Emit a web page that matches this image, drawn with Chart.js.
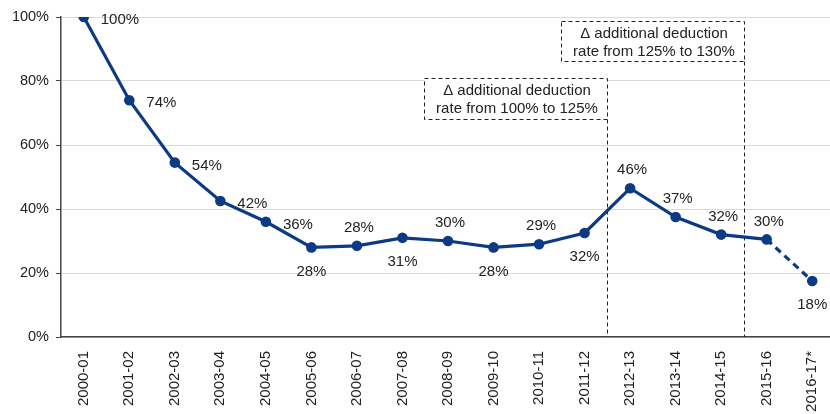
<!DOCTYPE html>
<html>
<head>
<meta charset="utf-8">
<script src="https://cdn.jsdelivr.net/npm/chart.js@4.4.1/dist/chart.umd.min.js"></script>
<style>
  html, body { margin: 0; padding: 0; background: #fff; }
  #wrap { width: 830px; height: 414px; }
</style>
</head>
<body>
<div id="wrap"><canvas id="chart" width="830" height="414"></canvas></div>
<script>
// Data
const years = ['2000-01', '2001-02', '2002-03', '2003-04', '2004-05', '2005-06', '2006-07', '2007-08',
    '2008-09', '2009-10', '2010-11', '2011-12', '2012-13', '2013-14', '2014-15', '2015-16', '2016-17*'];
const shares = [100, 74, 54.5, 42.5, 36, 28, 28.5, 31, 30, 28, 29, 32.5, 46.5, 37.5, 32, 30.5, 17.5];
const shareLabels = ['100%', '74%', '54%', '42%', '36%', '28%', '28%', '31%', '30%', '28%', '29%', '32%',
    '46%', '37%', '32%', '30%', '18%'];
// where each value label sits relative to its point
const labelSide = ['right', 'right', 'right', 'right', 'right', 'below', 'above', 'below', 'above', 'below',
    'above', 'below', 'above', 'above', 'above', 'above', 'below'];
const yTicks = [0, 20, 40, 60, 80, 100];

// Policy changes: line drawn between two years, with a note
const reforms = [
    { after: 11, lines: ['\u0394 additional deduction', 'rate from 100% to 125%'], top: 81, bottom: 68 },
    { after: 14, lines: ['\u0394 additional deduction', 'rate from 125% to 130%'], top: 98.8, bottom: 86.3 }
];

const navy = '#0c3a84';
const textColor = '#222';
const fontFamily = '"Liberation Sans", Arial, sans-serif';

// the plot runs a little past the right edge of the picture
const stretchRight = {
    id: 'stretchRight',
    afterLayout(chart) {
        const x = chart.scales.x;
        x.right = 835;
        x.width = x.right - x.left;
        chart.chartArea.right = 835;
        chart.chartArea.width = chart.chartArea.right - chart.chartArea.left;
        x.configure();
    }
};

// draws the value labels next to each point
const valueLabels = {
    id: 'valueLabels',
    afterDatasetsDraw(chart) {
        const ctx = chart.ctx;
        const meta = chart.getDatasetMeta(0);
        ctx.save();
        ctx.font = '15px ' + fontFamily;
        ctx.fillStyle = textColor;
        ctx.textBaseline = 'middle';
        meta.data.forEach((pt, i) => {
            const side = labelSide[i];
            if (side === 'right') {
                ctx.textAlign = 'left';
                ctx.fillText(shareLabels[i], pt.x + 17, pt.y + 3);
            } else if (side === 'above') {
                ctx.textAlign = 'center';
                ctx.fillText(shareLabels[i], pt.x + 2, pt.y - 18);
            } else {
                ctx.textAlign = 'center';
                ctx.fillText(shareLabels[i], pt.x, pt.y + 24);
            }
        });
        ctx.restore();
    }
};

// dashed reform lines and their boxed notes
const reformNotes = {
    id: 'reformNotes',
    beforeDatasetsDraw(chart) {
        const ctx = chart.ctx;
        const x = chart.scales.x, y = chart.scales.y;
        ctx.save();
        ctx.strokeStyle = '#222';
        ctx.lineWidth = 1;
        ctx.setLineDash([4, 3]);
        ctx.font = '15px ' + fontFamily;
        ctx.fillStyle = textColor;
        ctx.textAlign = 'center';
        ctx.textBaseline = 'middle';
        reforms.forEach(r => {
            const lx = Math.round((x.getPixelForValue(r.after) + x.getPixelForValue(r.after + 1)) / 2) + 0.5;
            const top = Math.round(y.getPixelForValue(r.top)) + 0.5;
            const bottom = Math.round(y.getPixelForValue(r.bottom)) + 0.5;
            const left = lx - 183;
            ctx.beginPath();
            ctx.moveTo(lx, bottom);
            ctx.lineTo(lx, y.bottom);
            ctx.stroke();
            ctx.fillStyle = '#fff';
            ctx.fillRect(left, top, lx - left, bottom - top);
            ctx.strokeRect(left, top, lx - left, bottom - top);
            ctx.fillStyle = textColor;
            const cx = (left + lx) / 2 + 1;
            ctx.fillText(r.lines[0], cx, top + 12);
            ctx.fillText(r.lines[1], cx, top + 30);
        });
        ctx.restore();
    }
};

const ctx = document.getElementById('chart').getContext('2d');
const chart = new Chart(ctx, {
    type: 'line',
    data: {
        labels: years,
        datasets: [{
            data: shares,
            borderColor: navy,
            backgroundColor: navy,
            borderWidth: 3.2,
            pointRadius: 5.3,
            pointHoverRadius: 5.3,
            pointBackgroundColor: navy,
            pointBorderWidth: 0,
            tension: 0,
            segment: {
                // last year is an estimate: dashed
                borderDash: c => c.p1DataIndex === years.length - 1 ? [7, 5] : undefined
            }
        }]
    },
    options: {
        responsive: false,
        animation: false,
        layout: { padding: { top: 17, right: 0, left: 0, bottom: 0 } },
        plugins: {
            legend: { display: false },
            tooltip: { enabled: false }
        },
        scales: {
            x: {
                offset: true,
                grid: { display: false },
                border: { display: true, color: '#444', width: 1.5 },
                ticks: {
                    color: textColor,
                    font: { family: fontFamily, size: 15 },
                    minRotation: 90,
                    maxRotation: 90,
                    padding: 6,
                    autoSkip: false
                },
                afterFit: s => { s.height = 77; s.paddingRight = 0; s.paddingLeft = 0; }
            },
            y: {
                min: 0,
                max: 100,
                afterBuildTicks: s => { s.ticks = yTicks.map(v => ({ value: v })); },
                grid: { color: '#d9d9d9', tickColor: '#444', tickLength: 5 },
                border: { display: true, color: '#444', width: 1.5 },
                ticks: {
                    color: textColor,
                    font: { family: fontFamily, size: 14.5 },
                    padding: 7,
                    callback: v => v + '%'
                },
                afterFit: s => { s.width = 61; s.paddingTop = 0; s.paddingBottom = 0; }
            }
        }
    },
    plugins: [stretchRight, reformNotes, valueLabels]
});
</script>
</body>
</html>
